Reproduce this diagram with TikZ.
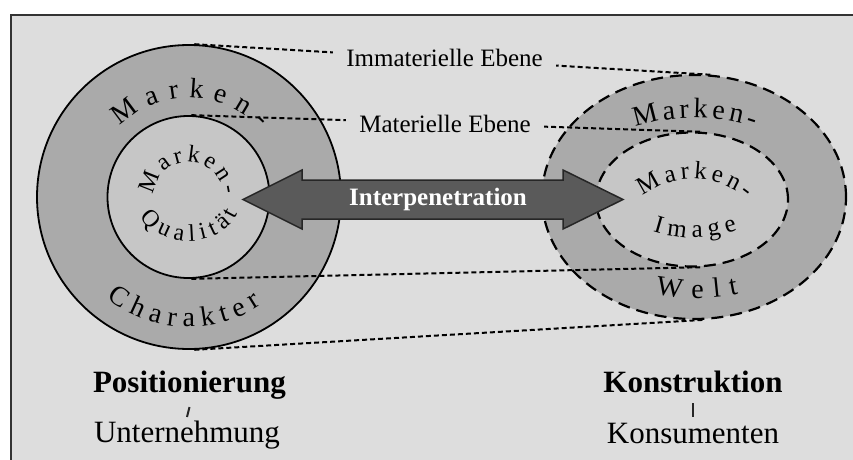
\documentclass[tikz,border=0pt]{standalone}
\usepackage{fontspec}
\setmainfont{Liberation Serif}
\usetikzlibrary{shapes.geometric,decorations.text}

\definecolor{paper}{HTML}{DDDDDD}
\definecolor{ringgray}{HTML}{AAAAAA}
\definecolor{coregray}{HTML}{C6C6C6}
\definecolor{arrowgray}{HTML}{5A5A5A}
\definecolor{framegray}{HTML}{333333}

% font sizes for the curved captions
\newcommand\arcbig{\fontsize{28}{28}\selectfont}
\newcommand\arcmid{\fontsize{25}{25}\selectfont}
\newcommand\arcsmall{\fontsize{24}{24}\selectfont}

\tikzset{
  ring/.style={circle, draw=black, line width=1.8pt, fill=ringgray, inner sep=0pt},
  core/.style={circle, draw=black, line width=1.8pt, fill=coregray, inner sep=0pt},
  dring/.style={ellipse, draw=black, line width=2.2pt, dash pattern=on 12pt off 7pt, fill=ringgray, inner sep=0pt},
  dcore/.style={ellipse, draw=black, line width=2.2pt, dash pattern=on 12pt off 7pt, fill=coregray, inner sep=0pt},
  link/.style={draw=black, line width=2pt, dash pattern=on 5pt off 3pt},
  level/.style={fill=paper, inner xsep=13pt, inner ysep=2pt, anchor=base, font=\fontsize{25}{30}\selectfont},
  head/.style={anchor=base, inner sep=0pt, font=\bfseries\fontsize{31}{36}\selectfont},
  side/.style={anchor=base, inner sep=0pt, font=\fontsize{31}{36}\selectfont},
  bar/.style={draw=black!85, line width=2pt},
  arrowbody/.style={fill=arrowgray, draw=black!85, line width=1.5pt, line join=miter},
  curved/.style 2 args={font=#1, decorate, decoration={text along path, text={|#1|#2}, text align=fit to path}}
}

\begin{document}
\begin{tikzpicture}[x=1pt, y=1pt]
  \useasboundingbox (0,0) rectangle (853,459);
  \clip (0,0) rectangle (853,459);
  \fill[white] (0,0) rectangle (853,459);
  % framed panel
  \draw[draw=framegray, line width=2.5pt, fill=paper] (11,-10) rectangle (880,444);

  % brand side: character and quality
  \node[ring, minimum size=304pt] (lo) at (189,262) {};
  \node[core, minimum size=162pt] (li) at (188.5,262) {};
  % consumer side: world and image
  \node[dring, minimum width=304pt, minimum height=244pt] (ro) at (694,262) {};
  \node[dcore, minimum width=192pt, minimum height=134pt] (ri) at (692,259.5) {};

  % centres of the curved captions
  \coordinate (qc) at (188.5,258);
  \coordinate (imc) at (693,197);
  \coordinate (igc) at (693,351.5);
  \coordinate (wc) at (697,361);

  % curved captions
  \path[curved={\arcbig}{Marken-}]
    ([shift={(134:99)}]lo.center) arc[start angle=134, end angle=44, radius=99];
  \path[curved={\arcbig}{Charakter}]
    ([shift={(231:130)}]lo.center) arc[start angle=231, end angle=304, radius=130];
  \path[curved={\arcsmall}{Marken-}]
    ([shift={(176:35)}]li.center) arc[start angle=176, end angle=4, radius=35];
  \path[curved={\arcsmall}{Qualität}]
    ([shift={(203:52 and 40)}]qc) arc[start angle=203, end angle=342, x radius=52, y radius=40];
  \path[curved={\arcbig}{Marken-}]
    ([shift={(118:125 and 79)}]ro.center) arc[start angle=118, end angle=61, x radius=125, y radius=79];
  \path[curved={\arcmid}{Marken-}]
    ([shift={(127:83)}]imc) arc[start angle=127, end angle=50, radius=83];
  \path[curved={\arcmid}{Image}]
    ([shift={(252:130)}]igc) arc[start angle=252, end angle=290, radius=130];
  \path[curved={\arcbig}{Welt}]
    ([shift={(258:200)}]wc) arc[start angle=258, end angle=282, radius=200];

  % double-headed block arrow
  \draw[arrowbody] (243,259.5) -- (302,289) -- (302,279) -- (563,279) -- (563,289)
    -- (623,259.5) -- (563,230) -- (563,240) -- (302,240) -- (302,230) -- cycle;
  \node[text=white, font=\bfseries\fontsize{25}{30}\selectfont] (ip) at (438,259.5) {Interpenetration};

  % level connectors
  \draw[link] (lo.88) -- (ro.81);
  \draw[link] (li.88) -- (ri.81);
  \draw[link] (li.-88) -- (ri.-81);
  \draw[link] (lo.-88) -- (ro.-85);
  \node[level] (imm) at (444.5,392) {Immaterielle Ebene};
  \node[level] (mat) at (445,327) {Materielle Ebene};

  % bottom captions
  \node[head] (pos) at (189.5,67) {Positionierung};
  \node[side] (unt) at (187,17) {Unternehmung};
  \node[head] (kon) at (693,67) {Konstruktion};
  \node[side] (kns) at (693,16) {Konsumenten};
  \draw[bar] ([yshift=-15pt]pos.base) -- ([yshift=25pt]unt.base);
  \draw[bar] ([yshift=-11pt]kon.base) -- ([yshift=26pt]kns.base);
\end{tikzpicture}
\end{document}
